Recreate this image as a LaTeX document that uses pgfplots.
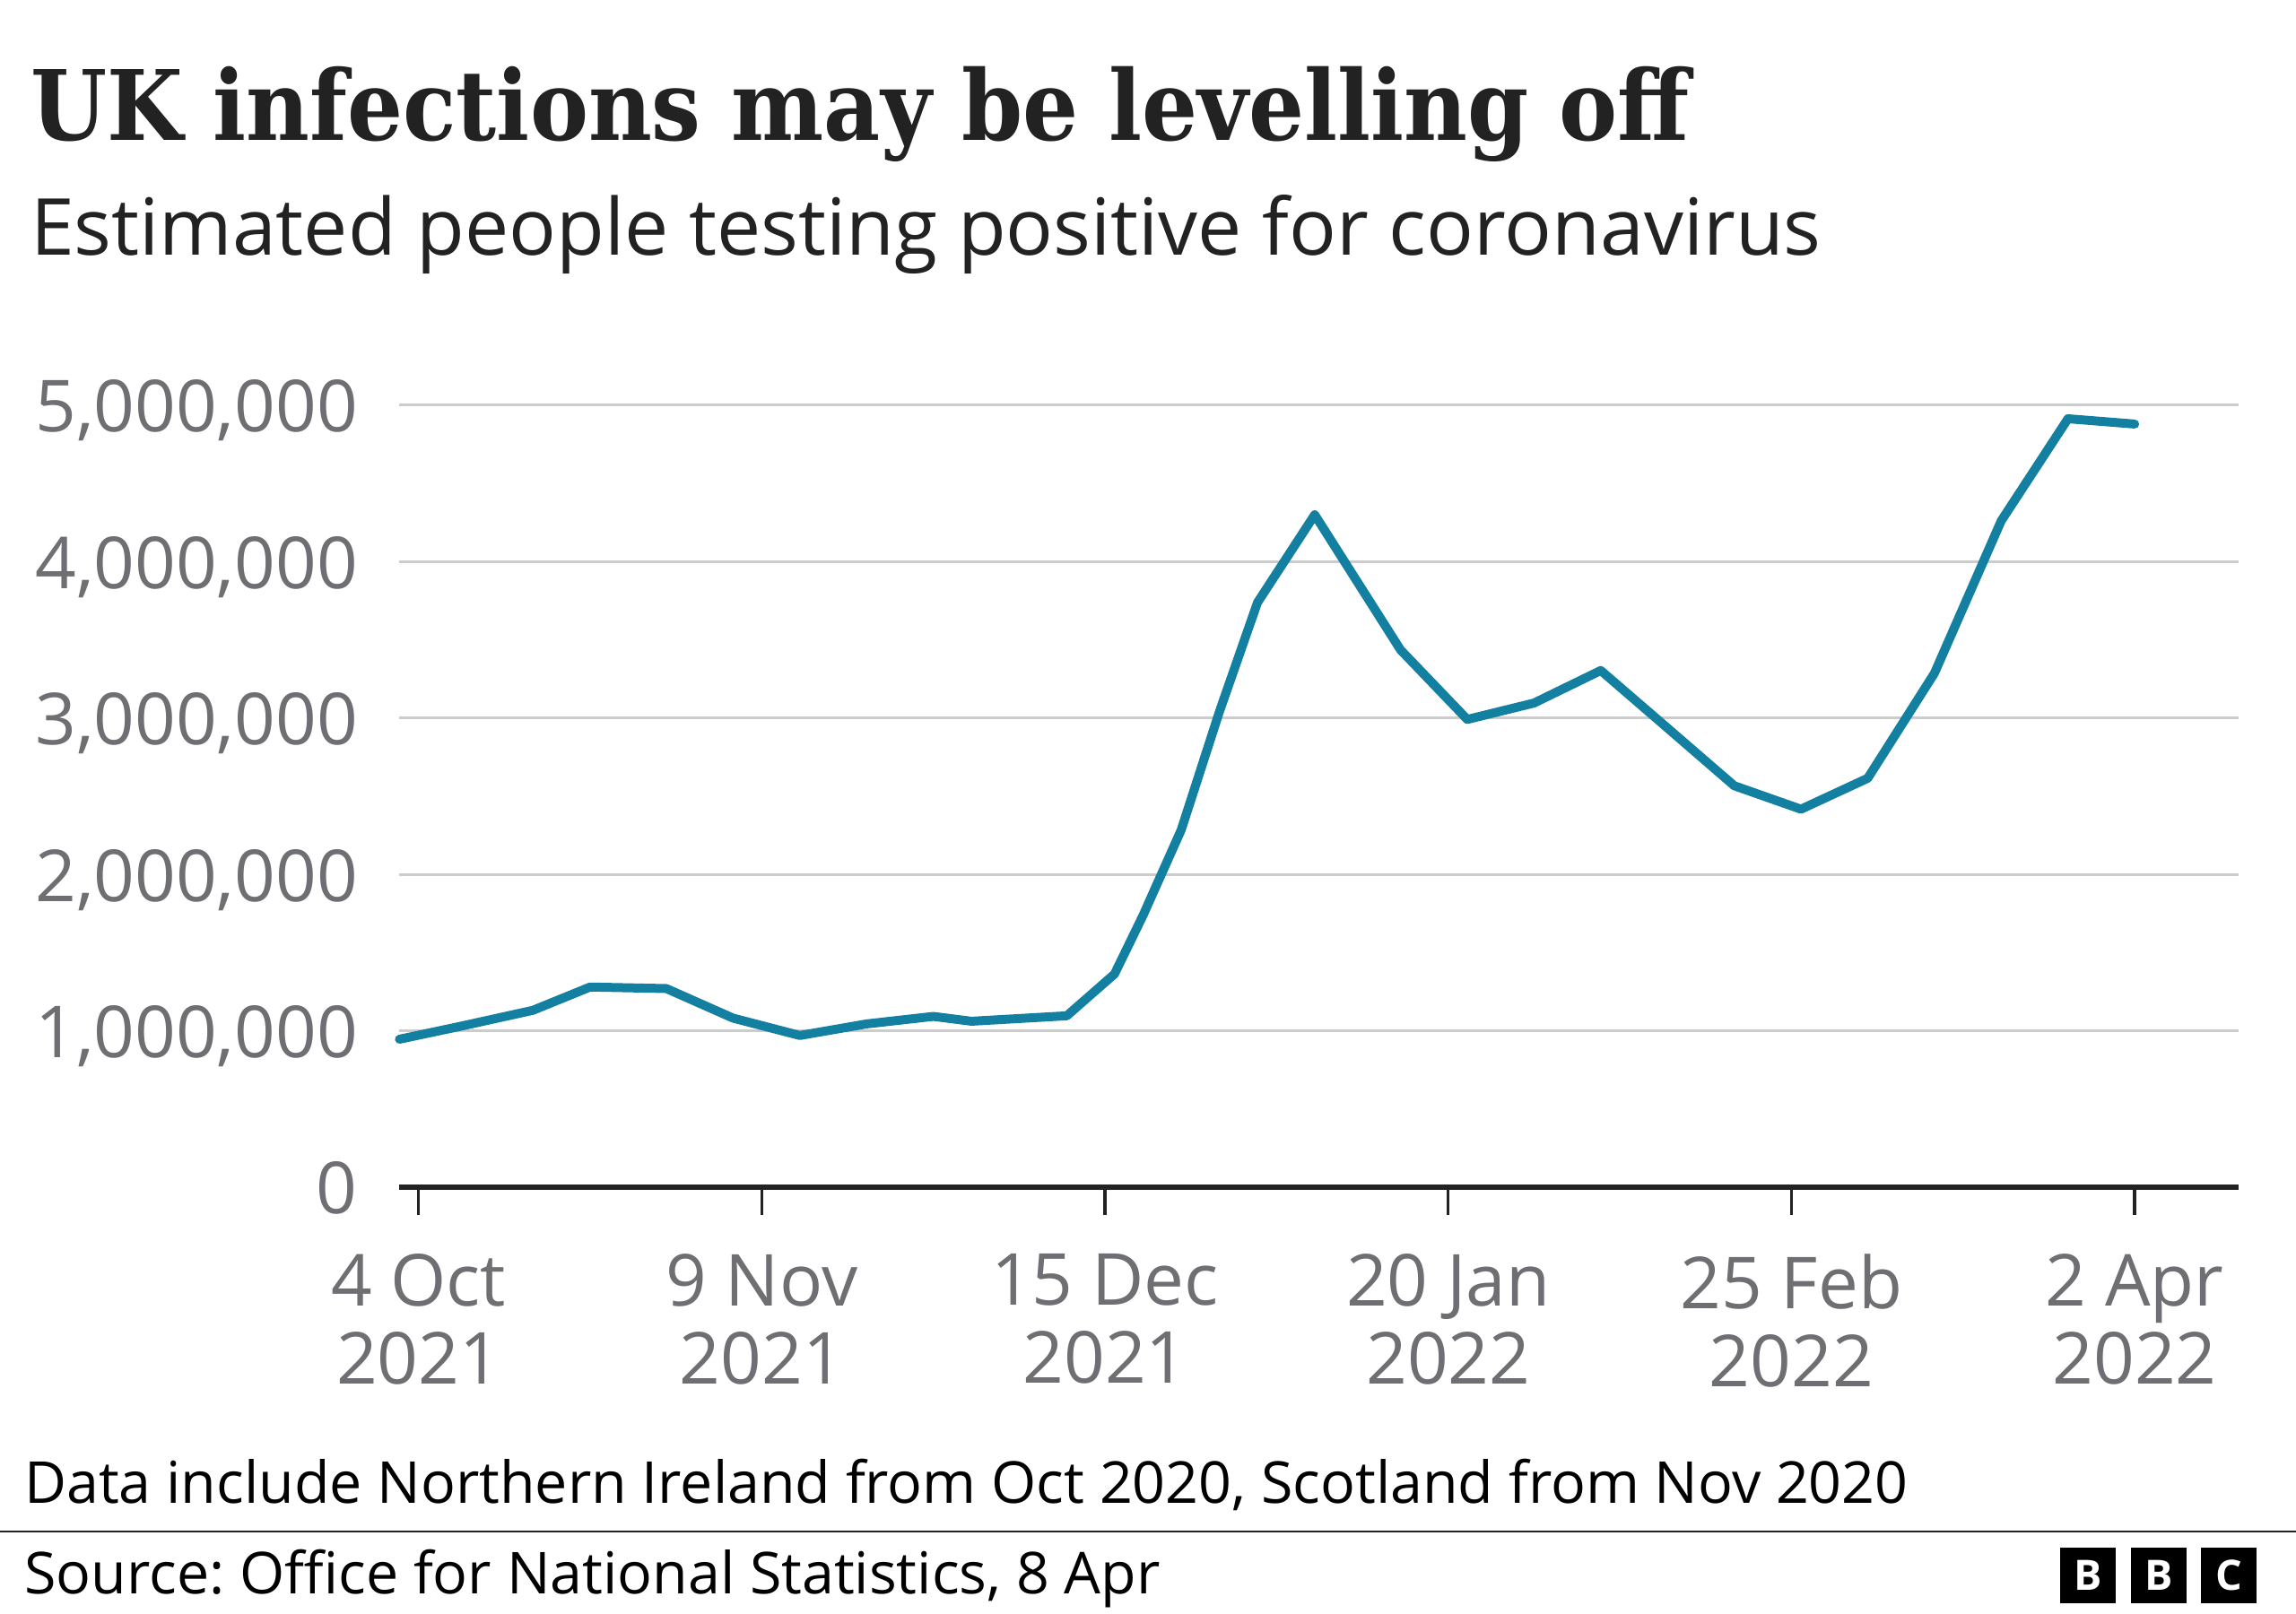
\documentclass[border=0pt]{standalone}
\usepackage{fontspec}
\usepackage{pgfplots}
\pgfplotsset{compat=1.18}
\setmainfont{Open Sans}
\newfontfamily\titlefont{DejaVu Serif}[FakeStretch=0.9]
\frenchspacing

\definecolor{bbcline}{HTML}{1380A1}
\definecolor{gridgray}{HTML}{CCCCCC}
\definecolor{axisdark}{HTML}{222222}
\definecolor{labelgray}{RGB}{110,110,115}
\definecolor{titledark}{HTML}{222222}

% estimated people testing positive, x = days after 4 Oct 2021
\pgfplotstableread{
day value
-2   946000
4.5  1030000
12   1131000
18   1280000
26   1270000
33   1081000
40   970000
47   1044000
54   1092000
58   1061000
68   1096000
73   1363000
76   1739000
80   2285000
84   3040000
88   3739000
94   4300000
103  3436000
110  2991000
117  3096000
124  3304000
131  2936000
138  2567000
145  2417000
152  2615000
159  3287000
166  4261000
173  4914000
180  4880000
}\infections

\begin{document}
\begin{tikzpicture}
\begin{axis}[
    at={(133.6pt,142.8pt)}, anchor=south west,
    scale only axis,
    width=615.2pt, height=261.6pt,
    xmin=-2, xmax=190.9,
    ymin=0, ymax=5000000,
    scaled y ticks=false,
    axis x line*=bottom, axis y line*=left,
    x axis line style={-, line width=1.8pt, draw=axisdark},
    y axis line style={draw=none},
    xtick={0,36,72,108,144,180},
    xticklabels={{4 Oct\\2021},{9 Nov\\2021},{15 Dec\\2021},{20 Jan\\2022},{25 Feb\\2022},{2 Apr\\2022}},
    ytick={0,1000000,2000000,3000000,4000000,5000000},
    yticklabels={0,{1,000,000},{2,000,000},{3,000,000},{4,000,000},{5,000,000}},
    ymajorgrids,
    grid style={line width=0.9pt, draw=gridgray},
    xtick align=outside, ytick align=inside,
    major tick length=9.3pt,
    xtick style={line width=1pt, draw=axisdark},
    ytick style={draw=none},
    tick label style={font=\fontsize{24}{26.1}\selectfont, text=labelgray},
    xticklabel style={align=center, anchor=north, inner sep=0pt, yshift=-12.9pt},
    yticklabel style={anchor=base east, inner sep=0pt, xshift=-13.8pt, yshift=-9pt},
    clip=false,
]
\addplot[bbcline, line width=3pt, line join=round, line cap=round] table[x=day, y=value] {\infections};
\end{axis}

% titles
\node[anchor=base west, inner sep=0pt, text=titledark,
      font=\titlefont\bfseries\fontsize{32.5}{39}\selectfont] at (10pt,492.9pt) {UK infections may be levelling off};
\node[anchor=base west, inner sep=0pt, text=titledark,
      font=\fontsize{26.3}{31}\selectfont] at (10pt,454.5pt) {Estimated people testing positive for coronavirus};

% footer
\node[anchor=base west, inner sep=0pt, text=black,
      font=\fontsize{19.35}{23}\selectfont] at (8pt,36.9pt) {Data include Northern Ireland from Oct 2020, Scotland from Nov 2020};
\draw[line width=0.8pt, draw=axisdark] (0pt,27.6pt) -- (768pt,27.6pt);
\node[anchor=base west, inner sep=0pt, text=black,
      font=\fontsize{19.35}{23}\selectfont] at (8pt,6.6pt) {Source: Office for National Statistics, 8 Apr};

% logo
\foreach \lx/\ll in {689.1/B, 712.8/B, 736.2/C} {
  \fill[black] (\lx pt,3.6pt) rectangle ++(18.7pt,18.6pt);
  \node[text=white, inner sep=0pt, font=\bfseries\fontsize{14}{14}\selectfont] at (\lx pt+9.35pt,12.9pt) {\ll};
}

\pgfresetboundingbox
\path (0,0) rectangle (768pt,540pt);
\end{tikzpicture}
\end{document}
